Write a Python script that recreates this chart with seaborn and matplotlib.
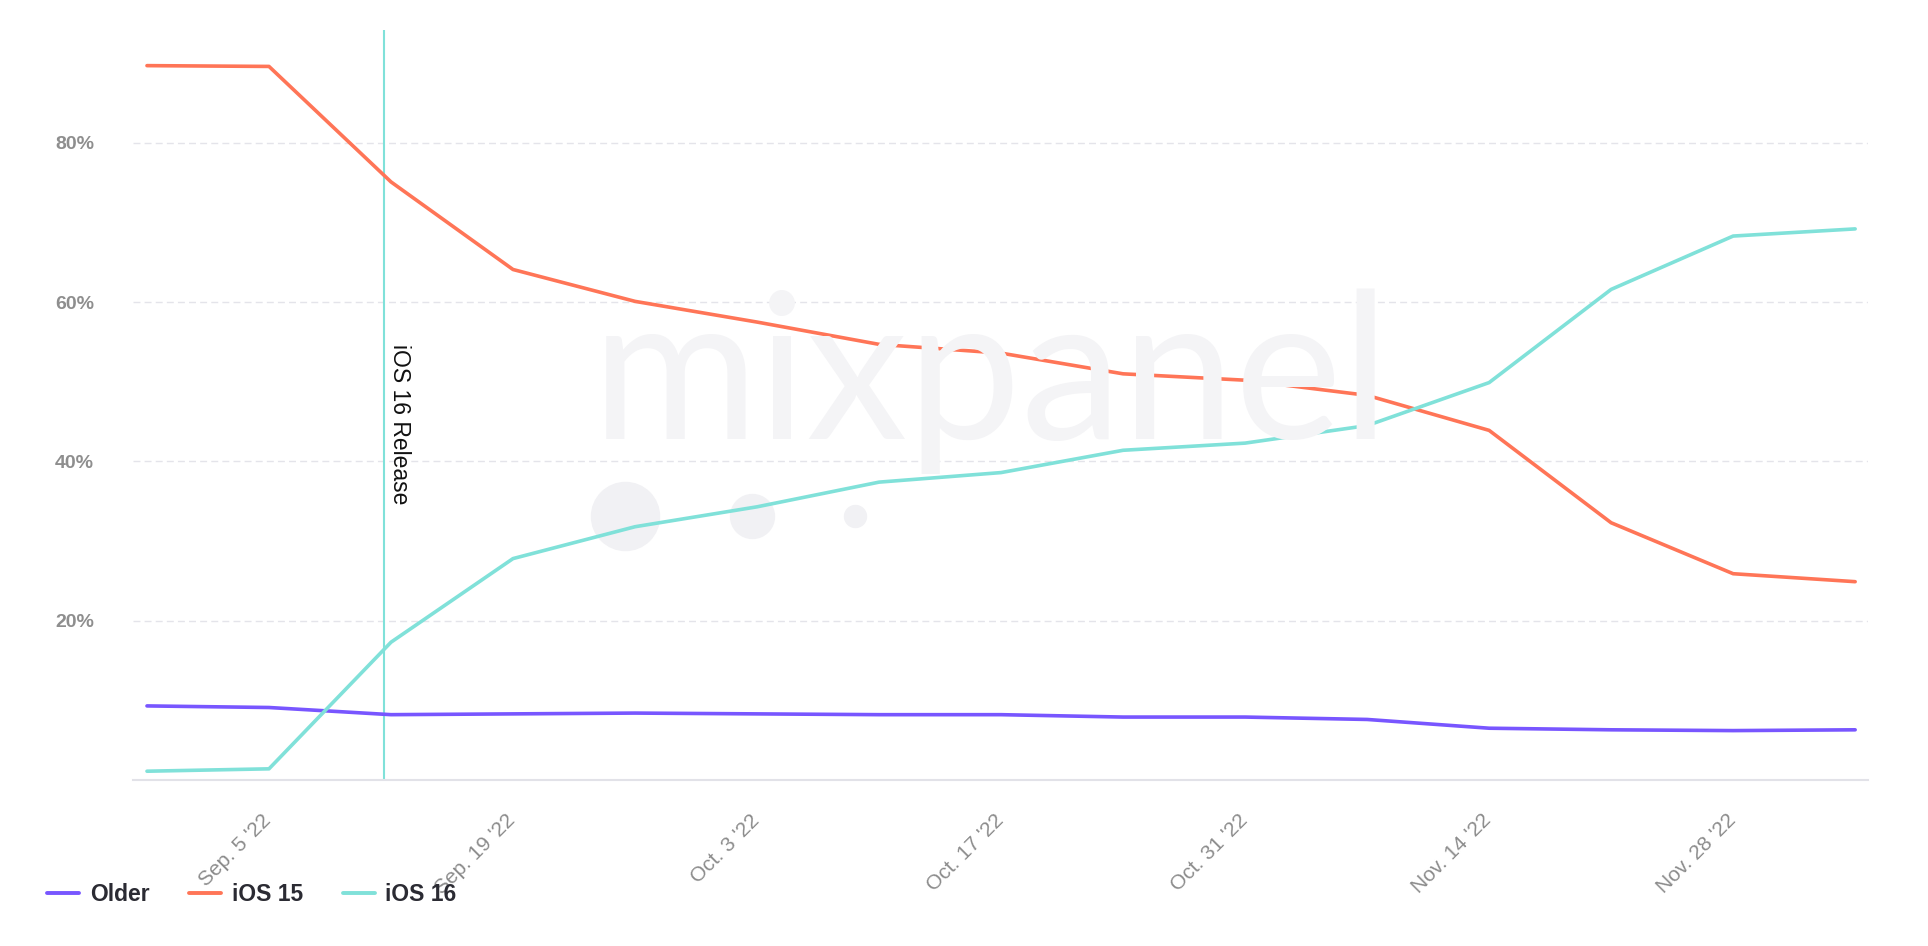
import matplotlib
matplotlib.use('Agg')
import matplotlib.pyplot as plt
from matplotlib.transforms import ScaledTranslation
import pandas as pd
import seaborn as sns

# weekly share of iOS versions (percent)
weeks = ['2022-08-29', '2022-09-05', '2022-09-12', '2022-09-19', '2022-09-26',
         '2022-10-03', '2022-10-10', '2022-10-17', '2022-10-24', '2022-10-31',
         '2022-11-07', '2022-11-14', '2022-11-21', '2022-11-28', '2022-12-05']
older = [9.3, 9.1, 8.2, 8.3, 8.4, 8.3, 8.2, 8.2, 7.9, 7.9, 7.6, 6.5, 6.3, 6.2, 6.3]
ios15 = [89.7, 89.6, 75.1, 64.1, 60.1, 57.5, 54.7, 53.6, 51.0, 50.2, 48.3, 43.9, 32.3, 25.9, 24.9]
ios16 = [1.1, 1.4, 17.3, 27.8, 31.8, 34.3, 37.4, 38.6, 41.4, 42.3, 44.5, 49.9, 61.6, 68.3, 69.2]

series_names = ['Older', 'iOS 15', 'iOS 16']
colors = {'Older': '#7856FF', 'iOS 15': '#FF7557', 'iOS 16': '#80E1D9'}

tick_dates = ['2022-09-05', '2022-09-19', '2022-10-03', '2022-10-17',
              '2022-10-31', '2022-11-14', '2022-11-28']
tick_labels = ["Sep. 5 '22", "Sep. 19 '22", "Oct. 3 '22", "Oct. 17 '22",
               "Oct. 31 '22", "Nov. 14 '22", "Nov. 28 '22"]
y_ticks = [20, 40, 60, 80]

release_date = '2022-09-12'
release_label = 'iOS 16 Release'

# long-form dataframe for seaborn (weekly buckets are plotted slightly after the tick)
week_ts = pd.to_datetime(weeks) + pd.Timedelta(hours=10)
df = pd.DataFrame({
    'Week': list(week_ts) * 3,
    'Share': older + ios15 + ios16,
    'Version': [n for n in series_names for _ in weeks],
})

sns.set_style('white')
plt.rcParams['font.family'] = ['Liberation Sans', 'DejaVu Sans']

fig = plt.figure(figsize=(19.28, 9.46), dpi=100)
ax = fig.add_axes([0.069, 0.1755, 0.9, 0.793])

# faint watermark
fig.text(0.514, 0.536, 'mixpanel', fontsize=146, color='#f4f4f6', ha='center',
         va='baseline', family=['Lato', 'DejaVu Sans'], zorder=0)
for fx, s in [(625, 2400), (752, 1000), (855, 250)]:
    fig.add_artist(plt.Line2D([fx / 1928], [1 - 516 / 946], marker='o',
                              markersize=(s ** 0.5), color='#f1f1f4', linestyle='none',
                              transform=fig.transFigure, zorder=0))

sns.lineplot(data=df, x='Week', y='Share', hue='Version', palette=colors,
             linewidth=2.6, ax=ax, legend=True, zorder=3)

rel = pd.Timestamp(release_date)
ax.axvline(rel, color='#80E1D9', linewidth=1.5, zorder=2)
ax.annotate(release_label, xy=(rel, 54.7), xytext=(3, 0), textcoords='offset points',
            rotation=-90, rotation_mode='anchor', ha='left', va='bottom',
            fontsize=16.5, color='#111111')

start = week_ts[0] - pd.Timedelta(days=0.8)
end = week_ts[-1] + pd.Timedelta(days=0.75)
ax.set_xlim(start, end)
ax.set_ylim(0, 94.2)

ax.set_xticks(pd.to_datetime(tick_dates))
ax.set_xticklabels(tick_labels, rotation=45, ha='right', rotation_mode='anchor',
                   fontsize=15, color='#8c8c8c')
shift = ScaledTranslation(-0.17, 0.05, fig.dpi_scale_trans)
for lab in ax.get_xticklabels():
    lab.set_transform(lab.get_transform() + shift)
ax.set_yticks(y_ticks)
ax.set_yticklabels([f'{v}%' for v in y_ticks], fontsize=14, fontweight='bold',
                   color='#8e8e8e')
ax.tick_params(axis='x', length=16, width=1.3, color='#d0d0d8', pad=6, direction='out')
ax.tick_params(axis='y', length=0, pad=28)

ax.grid(axis='y', color='#e4e4ea', linestyle=(0, (5, 3)), linewidth=1)
ax.grid(axis='x', visible=False)
for side in ['top', 'right', 'left']:
    ax.spines[side].set_visible(False)
ax.spines['bottom'].set_color('#e2e2e8')
ax.spines['bottom'].set_linewidth(1.5)
ax.set_xlabel('')
ax.set_ylabel('')
ax.patch.set_alpha(0)

handles, labels = ax.get_legend_handles_labels()
ax.legend_.remove()
leg = fig.legend(handles, labels, loc='center left', bbox_to_anchor=(0.0245, 0.054),
                 ncol=3, frameon=False, handlelength=1.4, handletextpad=0.45,
                 columnspacing=1.75, borderpad=0, borderaxespad=0,
                 prop={'size': 16.5, 'weight': 'bold'})
for t in leg.get_texts():
    t.set_color('#2b2b33')
for h in leg.legend_handles:
    h.set_linewidth(2.8)

fig.savefig('out.png', dpi=100)
